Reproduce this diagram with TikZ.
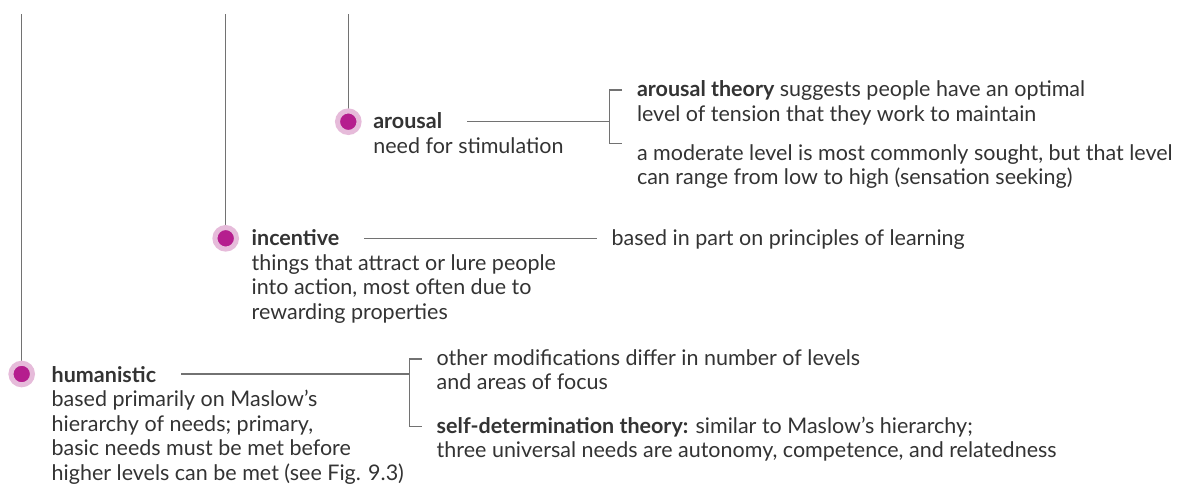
\documentclass[tikz,border=0pt]{standalone}
\usepackage{fontspec}
\setmainfont{Lato}
\usepackage{xcolor}
\usepackage{tikz}
\usetikzlibrary{positioning}

\definecolor{plum}{HTML}{B51E8E}
\definecolor{plumlight}{HTML}{E6BBDA}
\definecolor{linegray}{HTML}{727272}
\definecolor{textgray}{HTML}{333333}

% lines of a text block, first baseline on the node's base
\newcommand{\stack}[1]{\begin{tabular}[t]{@{}l@{}}#1\end{tabular}}

\begin{document}
\begin{tikzpicture}[x=1pt, y=-1pt, every node/.style={inner sep=0pt, outer sep=0pt}]
        % Styles for titles, descriptions, connectors and dots
        \tikzstyle{title} = [font=\fontsize{21.5}{24.5}\selectfont\bfseries, text=textgray, anchor=base west]
        \tikzstyle{desc} = [font=\fontsize{21.5}{24.5}\selectfont, text=textgray, anchor=base west]
        \tikzstyle{link} = [draw=linegray, line width=1.1pt]
        \tikzstyle{dot} = [circle, fill=plum, draw=plumlight, line width=5pt, minimum size=21.6pt]

        \useasboundingbox (0,0) rectangle (1180,488);

        % Timeline stems
        \coordinate (htop) at (21.7,14);
        \coordinate (itop) at (225.7,14);
        \coordinate (atop) at (348.3,14);
        \draw [link] (htop) -- (21.7,374);
        \draw [link] (itop) -- (225.7,238.3);
        \draw [link] (atop) -- (348.3,121.7);

        % Dots
        \node (hdot) [dot] at (21.7,374) {};
        \node (idot) [dot] at (225.7,238.3) {};
        \node (adot) [dot] at (348.3,121.7) {};

        % Arousal
        \node (arousal) [title] at (373.3,128.3) {arousal};
        \node (arousaldesc) [desc] at (373.3,153.3) {need for stimulation};
        \coordinate (abrtop) at (609.5,90);
        \coordinate (abrbot) at (609.5,143.3);
        \node (atheory) [desc] at (637,96.7) {\stack{\textbf{arousal theory} suggests people have an optimal\\level of tension that they work to maintain}};
        \node (amoderate) [desc] at (637,160) {\stack{a moderate level is most commonly sought, but that level\\can range from low to high (sensation seeking)}};
        \draw [link, shorten <=25pt] (arousal.east |- adot.center) -- (abrtop |- adot.center);
        \draw [link] ([xshift=12.5pt]abrtop) -- (abrtop) -- (abrbot) -- ([xshift=12.5pt]abrbot);

        % Incentive
        \node (incentive) [title] at (251.7,245) {incentive};
        \node (incentivedesc) [desc] at (251.7,270) {\stack{things that attract or lure people\\into action, most often due to\\rewarding properties}};
        \node (learning) [desc] at (611.7,245) {based in part on principles of learning};
        \draw [link, shorten <=25pt, shorten >=15pt] (incentive.east |- idot.center) -- (learning.west |- idot.center);

        % Humanistic
        \node (humanistic) [title] at (51.7,382.3) {humanistic};
        \node (humanisticdesc) [desc] at (51.7,406.7) {\stack{based primarily on Maslow’s\\hierarchy of needs; primary,\\basic needs must be met before\\higher levels can be met (see Fig. 9.3)}};
        \coordinate (hbrtop) at (409.5,359);
        \coordinate (hbrbot) at (409.5,426.7);
        \node (levels) [desc] at (436.7,365) {\stack{other modifications differ in number of levels\\and areas of focus}};
        \node (selfdet) [desc] at (436.7,433) {\stack{\textbf{self-determination theory:} similar to Maslow’s hierarchy;\\three universal needs are autonomy, competence, and relatedness}};
        \draw [link, shorten <=25pt] (humanistic.east |- hdot.center) -- (hbrtop |- hdot.center);
        \draw [link] ([xshift=12.5pt]hbrtop) -- (hbrtop) -- (hbrbot) -- ([xshift=12.5pt]hbrbot);
    \end{tikzpicture}
\end{document}
